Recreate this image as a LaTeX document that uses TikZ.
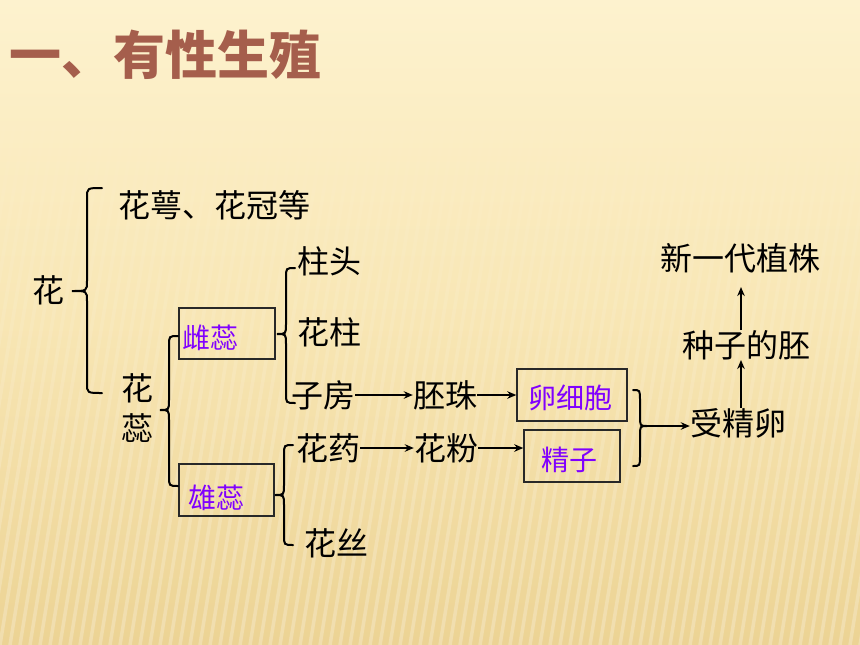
\documentclass[tikz,border=0pt]{standalone}
\usepackage{fontspec}
\setmainfont{Noto Sans CJK SC}
\usetikzlibrary{arrows.meta,calc,fadings}
\definecolor{bgtop}{RGB}{253,242,206}
\definecolor{bgmid}{RGB}{248,230,180}
\definecolor{bgbot}{RGB}{236,211,148}
\definecolor{titlecol}{RGB}{165,94,76}
\definecolor{violet}{RGB}{128,0,255}
\definecolor{boxcol}{RGB}{40,40,40}
\tikzset{
  txt/.style={inner sep=0pt, font=\fontsize{32}{38}\selectfont, text=black},
  vtxt/.style={inner sep=0pt, font=\fontsize{28}{32}\selectfont, text=violet},
  titletxt/.style={inner sep=0pt, font=\fontsize{52}{58}\selectfont\bfseries, text=titlecol},
  boxnode/.style={draw=boxcol, line width=1.4pt, inner sep=0pt},
  arr/.style={line width=1.8pt, -{Stealth[length=9pt,width=7.5pt]}},
  brc/.style={line width=2pt, line cap=round},
}
\newcommand\mybrc[6]{% tipx, endx, spinex, ytop, ytip, ybot
  \draw[brc] (#2,#4) .. controls (#3,#4) .. ({#3},{#4+10})
    -- ({#3},{#5-10}) .. controls (#3,#5) .. (#1,#5)
    .. controls (#3,#5) .. ({#3},{#5+10})
    -- ({#3},{#6-10}) .. controls (#3,#6) .. (#2,#6);}
\begin{document}
\begin{tikzpicture}[x=1pt,y=-1pt]
\useasboundingbox (0,0) rectangle (860,645);
% background
\shade[top color=bgtop, bottom color=bgbot, middle color=bgmid] (0,0) rectangle (860,645);
\begin{scope}
\clip (0,90) rectangle (860,645);
\foreach \x in {0,10,...,960}
  \draw[white, opacity=0.25, line width=3.5pt, path fading=north] (\x-90,645) -- (\x,90);
\end{scope}
% title
\node[titletxt, anchor=west] (title) at (9,55) {一、有性生殖};
% nodes
\node[txt] (hua) at (48,290) {花};
\node[txt] (hegu) at (214,205) {花萼、花冠等};
\node[txt, align=center, font=\fontsize{32}{40}\selectfont] (huarui) at (137,408) {花\\蕊};
\node[boxnode, minimum width=96pt, minimum height=51pt] (cibox) at (227,333.5) {};
\node[vtxt] (cirui) at (210,338) {雌蕊};
\node[boxnode, minimum width=95pt, minimum height=52pt] (xiongbox) at (226.5,490) {};
\node[vtxt] (xiongrui) at (216,498) {雄蕊};
\node[txt] (zhutou) at (329,261) {柱头};
\node[txt] (huazhu) at (329,332) {花柱};
\node[txt] (zifang) at (323,395) {子房};
\node[txt] (peizhu) at (445,395) {胚珠};
\node[txt] (huayao) at (328,448) {花药};
\node[txt] (huafen) at (446,448) {花粉};
\node[txt] (huasi) at (336,543) {花丝};
\node[boxnode, minimum width=110pt, minimum height=52pt] (luanbox) at (572,395) {};
\node[vtxt] (luan) at (570,398) {卵细胞};
\node[boxnode, minimum width=96pt, minimum height=52pt] (jingbox) at (572,456) {};
\node[vtxt] (jingzi) at (569,460) {精子};
\node[txt] (sjl) at (738,423) {受精卵};
\node[txt] (zzdp) at (746,345) {种子的胚};
\node[txt] (xyd) at (740,258) {新一代植株};
% braces
\mybrc{72}{102}{87}{188}{291}{393}
\mybrc{160}{178}{169}{336}{410}{486}
\mybrc{277}{295}{286}{268}{334}{403}
\mybrc{275}{293}{284}{445}{495}{545}
\mybrc{647}{633}{640}{390}{426}{466}
\coordinate (rtip) at (647,426);
% arrows
\draw[arr] (zifang.east) -- (peizhu.west);
\draw[arr] (peizhu.east) -- (peizhu.east -| luanbox.west);
\draw[arr] (huayao.east) -- (huafen.west);
\draw[arr] (huafen.east) -- (huafen.east -| jingbox.west);
\draw[arr] (rtip) -- (rtip -| sjl.west);
\draw[arr] ([xshift=3pt]sjl.north) -- ([xshift=3pt]sjl.north |- zzdp.south);
\draw[arr, shorten >=14pt] ([xshift=-5pt]zzdp.north) -- ([xshift=-5pt]zzdp.north |- xyd.south);
\end{tikzpicture}
\end{document}
